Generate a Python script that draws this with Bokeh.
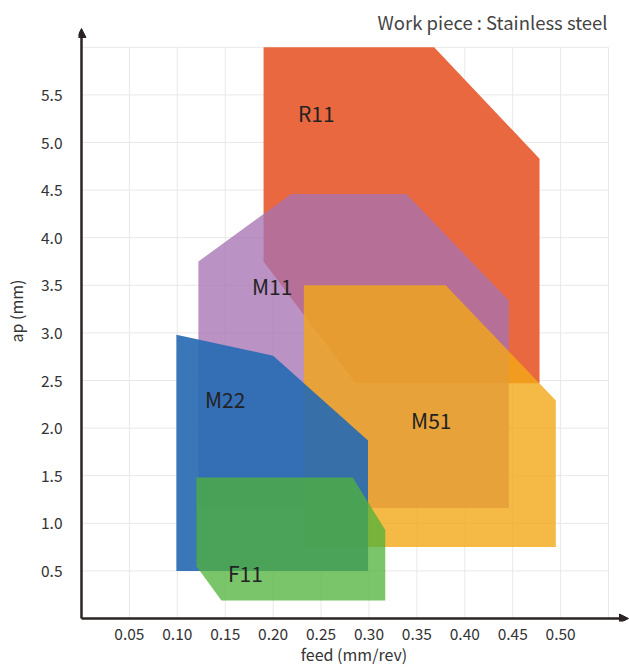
from bokeh.plotting import figure
from bokeh.models import Arrow, NormalHead, Label, FixedTicker, Range1d
from bokeh.embed import file_html
from bokeh.resources import INLINE

FONT = "Noto Sans CJK JP"

# ---- data (feed mm/rev, ap mm) ----
x_ticks = [0.05, 0.10, 0.15, 0.20, 0.25, 0.30, 0.35, 0.40, 0.45, 0.50]
x_tick_labels = ["0.05", "0.10", "0.15", "0.20", "0.25", "0.30", "0.35", "0.40", "0.45", "0.50"]
y_ticks = [0.5, 1.0, 1.5, 2.0, 2.5, 3.0, 3.5, 4.0, 4.5, 5.0, 5.5]
y_tick_labels = ["0.5", "1.0", "1.5", "2.0", "2.5", "3.0", "3.5", "4.0", "4.5", "5.0", "5.5"]
feed_max = 0.55
ap_max = 6.0

R11_feed = [0.19, 0.368, 0.478, 0.478, 0.286, 0.19]
R11_ap = [6.0, 6.0, 4.83, 2.47, 2.47, 3.75]

M11_feed = [0.122, 0.219, 0.339, 0.446, 0.446, 0.122]
M11_ap = [3.75, 4.46, 4.46, 3.34, 1.16, 1.16]

M51_feed = [0.232, 0.380, 0.495, 0.495, 0.232]
M51_ap = [3.50, 3.50, 2.29, 0.75, 0.75]

M22_feed = [0.099, 0.200, 0.299, 0.299, 0.099]
M22_ap = [2.98, 2.76, 1.87, 0.50, 0.50]

F11_feed = [0.120, 0.283, 0.317, 0.317, 0.146, 0.120]
F11_ap = [1.48, 1.48, 0.93, 0.19, 0.19, 0.55]

region_names = ["R11", "M11", "M22", "M51", "F11"]
label_feed = [0.245, 0.199, 0.150, 0.365, 0.171]
label_ap = [5.31, 3.49, 2.31, 2.09, 0.48]

W, H = 629, 670
LEFT, BOTTOM = 77, 49
PX_PER_FEED = 960.0
PX_PER_AP = 95.2
x0 = -3 / PX_PER_FEED
y0 = -3 / PX_PER_AP
x1 = x0 + (W - LEFT) / PX_PER_FEED
y1 = y0 + (H - BOTTOM) / PX_PER_AP

p = figure(width=W, height=H, x_range=Range1d(x0, x1), y_range=Range1d(y0, y1),
           output_backend="svg", toolbar_location=None,
           min_border_left=LEFT, min_border_right=0, min_border_top=0, min_border_bottom=BOTTOM)

p.background_fill_color = "white"
p.border_fill_color = "white"
p.outline_line_color = None
p.grid.grid_line_color = None

for ax, ticks, labels in ((p.xaxis, x_ticks, x_tick_labels), (p.yaxis, y_ticks, y_tick_labels)):
    ax.ticker = FixedTicker(ticks=ticks)
    ax.major_label_overrides = {t: l for t, l in zip(ticks, labels)}
    ax.axis_line_color = None
    ax.major_tick_line_color = None
    ax.minor_tick_line_color = None
    ax.major_tick_out = 0
    ax.major_tick_in = 0
    ax.major_label_text_font = FONT
    ax.major_label_text_font_size = "15.5px"
    ax.major_label_text_color = "#333333"
    ax.axis_label_text_font = FONT
    ax.axis_label_text_font_size = "16px"
    ax.axis_label_text_font_style = "normal"
    ax.axis_label_text_color = "#333333"
p.xaxis.major_label_standoff = 6
p.yaxis.major_label_standoff = 16
p.xaxis.axis_label = "feed (mm/rev)"
p.yaxis.axis_label = "ap (mm)"
p.xaxis.axis_label_standoff = -1
p.yaxis.axis_label_standoff = 10

# grid (from tick lists)
gx = x_ticks + [feed_max]
gy = y_ticks + [ap_max]
p.segment(x0=gx, y0=[0] * len(gx), x1=gx, y1=[ap_max] * len(gx), line_color="#e8e8e8", line_width=1)
p.segment(x0=[0] * len(gy), y0=gy, x1=[feed_max] * len(gy), y1=gy, line_color="#e8e8e8", line_width=1)

p.patch(R11_feed, R11_ap, fill_color="#E9683F", fill_alpha=1.0, line_color=None)
p.patch(M11_feed, M11_ap, fill_color="#A771B2", fill_alpha=0.77, line_color=None)
p.patch(M51_feed, M51_ap, fill_color="#F2A718", fill_alpha=0.8, line_color=None)
p.patch(M22_feed, M22_ap, fill_color="#286BB3", fill_alpha=0.92, line_color=None)
p.patch(F11_feed, F11_ap, fill_color="#50B23A", fill_alpha=0.76, line_color=None)

for name, fx, fy in zip(region_names, label_feed, label_ap):
    p.add_layout(Label(x=fx, y=fy, text=name, text_font=FONT, text_font_size="21px",
                       text_color="#222222", text_align="center", text_baseline="middle"))

axis_col = "#2b2324"
y_arrow_end = y1 - 28 / PX_PER_AP
x_arrow_end = x1 - 1 / PX_PER_FEED
p.add_layout(Arrow(end=NormalHead(size=9, fill_color=axis_col, line_color=axis_col),
                   x_start=0, y_start=0, x_end=0, y_end=y_arrow_end, line_width=2.5, line_color=axis_col))
p.add_layout(Arrow(end=NormalHead(size=9, fill_color=axis_col, line_color=axis_col),
                   x_start=0, y_start=0, x_end=x_arrow_end, y_end=0, line_width=2.5, line_color=axis_col))

p.add_layout(Label(x=feed_max - 0.001, y=y1 - 21 / PX_PER_AP, text="Work piece : Stainless steel", text_font=FONT,
                   text_font_size="18.5px", text_color="#444444", text_align="right", text_baseline="middle"))

open("out.html", "w").write(file_html(p, INLINE))
